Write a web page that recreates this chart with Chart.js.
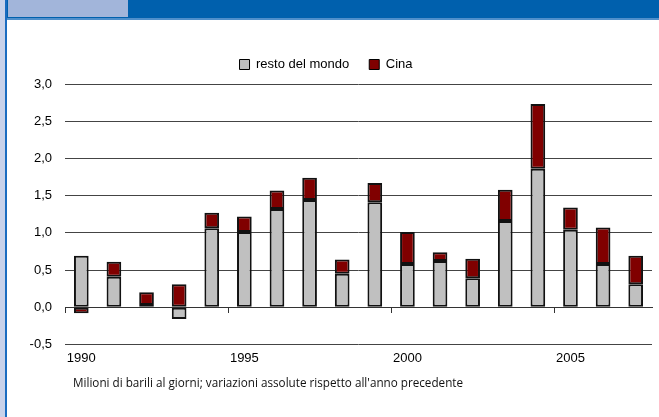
<!DOCTYPE html>
<html>
<head>
<meta charset="utf-8">
<script src="https://cdn.jsdelivr.net/npm/chart.js@4.4.1/dist/chart.umd.min.js"></script>
<style>
  html, body { margin: 0; padding: 0; width: 659px; height: 417px; overflow: hidden; background: #fff; }
  #stripe { position: absolute; left: 0; top: 0; width: 5px; height: 417px; background: #c8d2ea; }
  #vline { position: absolute; left: 5px; top: 0; width: 2px; height: 417px; background: #1a6cc0; }
  #header { position: absolute; left: 7px; top: 0; width: 652px; height: 18px; background: #0060ad; border-bottom: 2px solid #4f8fcb; }
  #hbox { position: absolute; left: 8px; top: 0; width: 120px; height: 17px; background: #a2b5da; }
  #wrap { position: absolute; left: 0; top: 0; width: 659px; height: 380px; }
  #note { position: absolute; left: 73px; top: 374px; font: 11.7px "Open Sans", sans-serif; color: #111; white-space: nowrap; }
</style>
</head>
<body>
<div id="stripe"></div>
<div id="vline"></div>
<div id="header"></div>
<div id="hbox"></div>
<div id="wrap"><canvas id="oilChart"></canvas></div>
<div id="note">Milioni di barili al giorni; variazioni assolute rispetto all'anno precedente</div>
<script>
// anni sull'asse x
const years = ['1990','1991','1992','1993','1994','1995','1996','1997','1998',
	'1999','2000','2001','2002','2003','2004','2005','2006','2007'];
// resto del mondo
const restoMondo = [0.69, 0.41, 0.03, -0.16, 1.06, 1.01, 1.32, 1.44, 0.45,
	1.41, 0.58, 0.62, 0.39, 1.16, 1.86, 1.04, 0.58, 0.31];
// Cina
const cina = [-0.08, 0.20, 0.17, 0.31, 0.21, 0.21, 0.25, 0.30, 0.19,
	0.26, 0.43, 0.12, 0.26, 0.42, 0.87, 0.30, 0.49, 0.38];
const shownYears = ['1990','1995','2000','2005'];

const font = { family: '"Liberation Sans", Arial, sans-serif', size: 13 };

let ctx = document.getElementById('oilChart').getContext('2d');
let chart = new Chart(ctx, {
	type: 'bar',
	data: {
		labels: years,
		datasets: [
			{ label: 'resto del mondo', data: restoMondo, backgroundColor: '#c0c0c0',
				borderColor: '#111', borderWidth: 2, borderSkipped: false },
			{ label: 'Cina', data: cina, backgroundColor: '#800000',
				borderColor: '#111', borderWidth: 2, borderSkipped: false }
		]
	},
	options: {
		responsive: true,
		maintainAspectRatio: false,
		animation: false,
		layout: { padding: { left: 0, right: 7, top: 38, bottom: 8 } },
		datasets: { bar: { categoryPercentage: 1, barPercentage: 0.45 } },
		plugins: {
			tooltip: { enabled: false },
			// empty subtitle, only a small gap between legend and plot
			subtitle: { display: true, text: ' ', weight: 500, padding: 0, font: { size: 2.5 } },
			legend: {
				position: 'top',
				labels: {
					color: '#000', font: font, boxWidth: 10, boxHeight: 10, padding: 20,
					generateLabels: function(c) {
						// default labels but with a thin border on the boxes
						let items = Chart.defaults.plugins.legend.labels.generateLabels(c);
						items.forEach(x => { x.lineWidth = 1; x.strokeStyle = '#000'; });
						return items;
					}
				}
			}
		},
		scales: {
			x: {
				stacked: true,
				grid: { display: false, drawTicks: false },
				border: { display: false },
				ticks: {
					color: '#000', font: font, maxRotation: 0, autoSkip: false, padding: 6,
					callback: function(v, i) { return shownYears.includes(years[i]) ? years[i] : ''; }
				}
			},
			x2: {
				// zero line with small ticks every five years
				type: 'category',
				labels: years,
				position: { y: 0 },
				grid: {
					offset: true, drawOnChartArea: false, tickLength: 5, lineWidth: 1,
					color: c => (c.index % 5 === 0 && c.index < years.length) ? '#333' : 'rgba(0,0,0,0)'
				},
				border: { display: true, color: '#333', width: 1 },
				ticks: { display: false }
			},
			y: {
				stacked: true,
				min: -0.5, max: 3.0,
				afterFit: s => { s.width = 65; },
				grid: { color: '#444', lineWidth: 1, drawTicks: false },
				border: { display: false },
				ticks: {
					stepSize: 0.5, padding: 13, color: '#000', font: font,
					callback: v => v.toFixed(1).replace('.', ',')
				}
			}
		}
	}
});
</script>
</body>
</html>
